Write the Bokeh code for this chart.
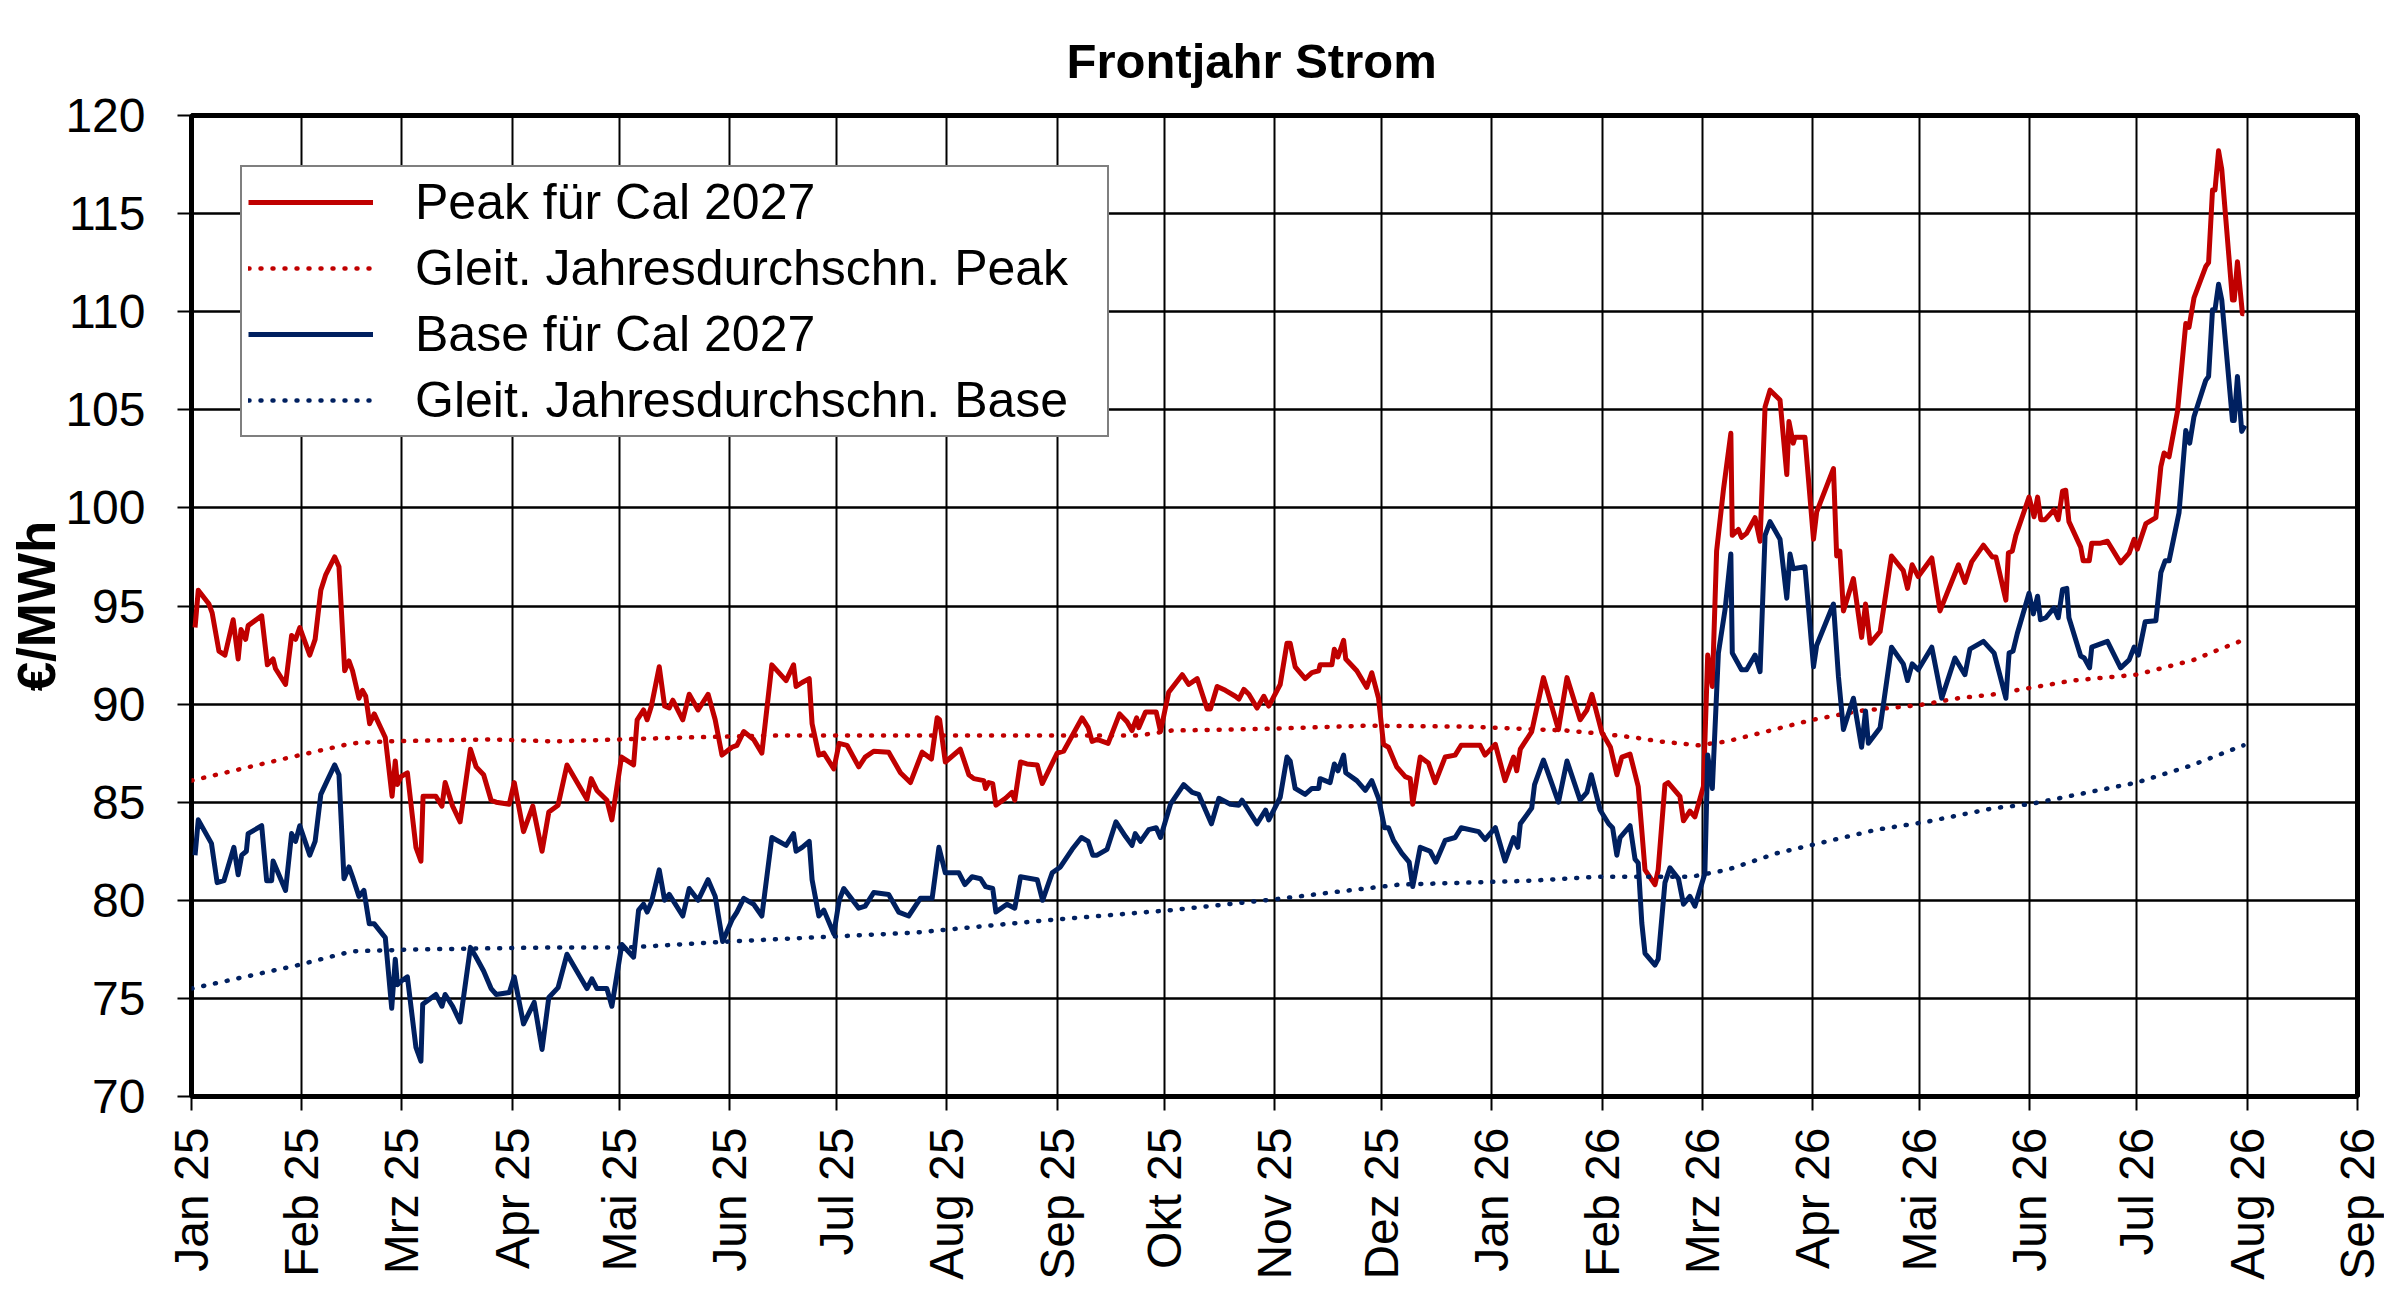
import numpy as np
import pandas as pd
from bokeh.plotting import figure
from bokeh.models import Range1d, FixedTicker, Legend, LegendItem
from bokeh.embed import file_html
from bokeh.resources import INLINE

# ---------------- Daten ----------------
titel = "Frontjahr Strom"
y_titel = "€/MWh"
ursprung = "2025-01-01"   # Tag 0 der x-Achse
monate = ["Jan 25", "Feb 25", "Mrz 25", "Apr 25", "Mai 25", "Jun 25", "Jul 25",
          "Aug 25", "Sep 25", "Okt 25", "Nov 25", "Dez 25", "Jan 26", "Feb 26",
          "Mrz 26", "Apr 26", "Mai 26", "Jun 26", "Jul 26", "Aug 26", "Sep 26"]
y_ticks = [70, 75, 80, 85, 90, 95, 100, 105, 110, 115, 120]

# Peak fuer Cal 2027 (Tage seit 01.01.2025, EUR/MWh)
peak_tage = [1, 1.9, 4.9, 5.8, 7.7, 9.4, 11.7, 13.1, 13.9, 15.2, 15.9, 19.7, 21.3, 22.9, 23.6, 26.4,
             28.1, 29.2, 30.4, 33.2, 34.7, 36.3, 37.7, 40.2, 41.4, 43.0, 44.2, 45.2, 47.0, 48.0, 48.9,
             50.0, 51.3, 54.4, 56.3, 57.2, 57.8, 58.8, 60.6, 63.0, 64.4, 65.0, 68.6, 70.3, 71.2, 73.3,
             75.4, 78.3, 79.9, 82.0, 84.1, 85.5, 89.2, 90.6, 93.2, 95.8, 98.4,
             100.3, 102.9, 105.4, 111.0, 112.2, 113.8, 116.6, 118.0, 120.7, 124.1, 125.1, 126.9, 127.9,
             129.1, 131.3, 132.8, 134.1, 135.1, 137.9, 139.7, 142.2, 145.0, 147.0, 148.9, 151.7, 153.1,
             155.0, 157.8, 160.1, 162.9, 166.9, 169.0, 169.7, 171.4, 173.4, 174.2, 176.1, 177.5, 180.3,
             181.8, 184.0, 187.3, 189.1, 191.5, 195.7, 199.0, 201.8,
             205.1, 207.7, 209.3, 210.0, 211.6, 215.8, 218.2, 219.6, 222.4, 222.9, 223.8, 224.9, 225.8,
             228.5, 230.3, 231.1, 232.7, 234.5, 237.4, 238.8, 243.0, 244.8, 250.0, 251.7, 252.8, 254.2,
             257.3, 260.5, 262.6, 264.0, 265.3, 265.9, 267.8, 270.8, 272.0, 274.3, 278.1, 279.9, 282.3,
             285.1, 286.0, 287.9, 290.2, 293.0, 294.0, 295.4, 296.8, 299.1, 301.0, 302.4,
             305.6, 307.5, 308.4, 309.8, 312.6, 314.5, 316.4, 316.8, 320.1, 320.8, 321.8, 323.4, 324.0,
             327.1, 329.9, 331.3, 333.2, 334.6, 336.0, 338.3, 340.7, 342.1, 342.8, 344.9, 347.2, 349.1,
             351.9, 354.7, 356.4, 361.7, 363.1, 366.0, 368.7, 371.1, 372.0, 373.0, 376.2, 379.5, 383.7,
             386.1, 389.8, 391.7, 393.1, 395.9, 398.3, 400.1, 401.5, 403.8,
             406.1, 408.0, 410.8, 411.7, 413.6, 414.5, 417.8, 418.8, 420.6, 422.0, 424.4, 425.6, 426.9,
             428.1, 430.0, 432.1, 432.5, 434.2, 435.1, 436.5, 438.9, 440.3, 441.7, 443.1, 445.9, 447.8,
             448.4, 449.6, 450.1, 452.9, 455.3, 456.2, 460.9, 461.8, 462.7, 463.7, 466.5, 468.8, 469.9,
             471.2, 474.0, 477.2, 480.5, 481.7, 483.0, 484.7, 488.5, 490.8, 496.0, 497.8, 499.7, 503.0,
             505.5, 506.5, 509.3, 510.0, 511.1, 512.1, 515.8, 517.2, 518.2, 519.1, 520.3, 522.8, 524.0,
             525.2, 526.1, 527.0, 530.3, 531.0, 532.7, 533.4, 535.9, 537.8, 541.5, 543.9, 545.3, 546.2,
             548.6, 551.4, 552.8, 553.7, 555.1, 557.5, 559.8, 560.7, 562.1, 565.4, 566.2, 567.3, 568.0,
             569.0, 569.9, 572.9, 573.4, 574.3, 575.7, 576.2]
peak_werte = [93.9, 95.8, 95.1, 94.65, 92.7, 92.5, 94.3, 92.3, 93.8, 93.3, 94.0, 94.5, 92.0, 92.3, 91.8, 91.0,
              93.5, 93.3, 93.9, 92.5, 93.3, 95.8, 96.6, 97.5, 97.0, 91.7, 92.2, 91.7, 90.3, 90.7, 90.4,
              89.0, 89.5, 88.3, 85.3, 87.1, 85.9, 86.3, 86.5, 82.7, 82.0, 85.3, 85.3, 84.8, 86.0, 84.8,
              84.0, 87.7, 86.8, 86.4, 85.1, 85.0, 84.9, 86.0, 83.5, 84.8, 82.5,
              84.5, 84.85, 86.9, 85.15, 86.2, 85.6, 85.1, 84.1, 87.3, 86.9, 89.2, 89.7, 89.2,
              89.9, 91.9, 89.9, 89.8, 90.2, 89.2, 90.5, 89.7, 90.5, 89.2, 87.4, 87.8, 87.9,
              88.6, 88.2, 87.5, 92.0, 91.2, 92.0, 90.9, 91.1, 91.3, 89.0, 87.4, 87.5, 86.7,
              88.0, 87.9, 86.8, 87.3, 87.6, 87.55, 86.5, 86.0,
              87.55, 87.2, 89.3, 89.2, 87.05, 87.7, 86.4, 86.2, 86.1, 85.7, 86.0, 85.95, 84.85,
              85.2, 85.5, 85.1, 87.05, 86.95, 86.9, 85.95, 87.5, 87.6, 89.3, 88.8, 88.1, 88.2,
              88.0, 89.5, 89.1, 88.65, 89.3, 88.8, 89.6, 89.6, 88.6, 90.6, 91.5, 91.0, 91.3,
              89.75, 89.75, 90.9, 90.7, 90.4, 90.25, 90.75, 90.5, 89.8, 90.4, 89.9,
              91.0, 93.1, 93.1, 91.9, 91.3, 91.6, 91.7, 92.0, 92.0, 92.8, 92.4, 93.25, 92.3,
              91.7, 90.85, 91.6, 90.3, 87.95, 87.8, 86.8, 86.3, 86.2, 84.9, 87.3, 87.0, 86.0,
              87.3, 87.4, 87.9, 87.9, 87.4, 87.95, 86.1, 87.3, 86.6, 87.7, 88.6, 91.35, 88.7,
              91.35, 89.2, 89.7, 90.5, 88.55, 87.8, 86.4, 87.3, 87.45,
              85.8, 81.55, 80.8, 81.55, 85.9, 86.0, 85.3, 84.05, 84.55, 84.25, 85.8, 92.5, 90.9,
              97.8, 100.9, 103.8, 98.6, 98.9, 98.5, 98.7, 99.5, 98.3, 105.15, 106.0, 105.5, 101.7,
              104.4, 103.3, 103.6, 103.6, 98.4, 99.8, 102.0, 97.55, 97.8, 94.75, 96.4, 93.4, 95.1,
              93.1, 93.7, 97.55, 96.8, 95.9, 97.1, 96.5, 97.45, 94.75, 97.1, 96.2, 97.25, 98.1,
              97.5, 97.5, 95.3, 97.7, 97.8, 98.6, 100.55, 99.55, 100.55, 99.4, 99.4, 99.9, 99.4,
              100.85, 100.9, 99.3, 98.0, 97.3, 97.3, 98.2, 98.2, 98.3, 97.2, 97.7, 98.4, 97.9,
              99.2, 99.5, 102.1, 102.8, 102.6, 104.95, 109.4, 109.2, 110.7, 112.3, 112.5, 116.2, 116.2,
              118.2, 117.25, 110.6, 110.6, 112.55, 109.9, 109.9]

# Base fuer Cal 2027
base_tage = [1, 1.9, 5.6, 7.2, 9.1, 11.9, 13.1, 14.1, 15.4, 15.9, 19.7, 21.1, 22.5, 22.9, 26.4, 28.1,
             29.2, 30.4, 33.2, 34.7, 36.3, 38.1, 40.2, 41.4, 42.8, 44.2, 45.2, 47.0, 48.4, 49.9, 51.3,
             54.4, 56.2, 57.2, 57.8, 59.0, 60.6, 63.0, 64.4, 64.9, 68.6, 70.3, 71.2, 73.3, 75.4, 78.3,
             79.9, 82.0, 84.1, 85.5, 89.2, 90.6, 93.2, 96.2, 98.4,
             100.3, 102.9, 105.4, 111.0, 112.4, 113.8, 116.6, 118.0, 120.8, 124.1, 125.5, 126.9, 127.9,
             129.1, 131.3, 132.8, 134.1, 137.9, 139.7, 142.2, 145.0, 147.0, 149.1, 151.7, 153.1, 155.0,
             157.8, 160.1, 161.5, 162.9, 166.9, 169.0, 169.7, 171.4, 173.4, 174.2, 176.1, 177.5, 180.3,
             181.8, 183.1, 187.3, 189.1, 191.5, 195.7, 198.5, 201.3,
             204.6, 207.9, 209.8, 211.6, 215.4, 217.1, 219.1, 221.5, 222.9, 224.9, 225.8, 228.9, 231.1,
             232.7, 237.4, 238.9, 241.6, 243.9, 247.2, 249.8, 251.7, 253.0, 254.2, 257.0, 259.5, 262.2,
             264.0, 264.9, 266.4, 268.7, 270.8, 272.0, 274.8, 278.5, 280.9, 282.7, 286.3, 288.4, 291.6,
             294.0, 294.9, 299.1, 301.5, 302.4,
             305.6, 307.5, 308.4, 309.8, 312.6, 314.5, 316.4, 316.8, 319.6, 320.8, 321.8, 323.4, 324.0,
             327.1, 329.5, 331.3, 333.2, 334.9, 336.0, 337.4, 339.7, 341.8, 342.8, 344.9, 347.7, 349.3,
             351.9, 354.7, 356.4, 361.3, 363.1, 366.0, 368.7, 371.1, 372.3, 373.0, 376.2, 377.0, 379.5,
             383.7, 386.1, 389.8, 391.7, 392.9, 395.4, 397.8, 398.9, 400.1, 401.0, 403.8,
             405.2, 406.1, 407.1, 408.0, 410.8, 411.7, 413.6, 415.0, 417.4, 418.8, 420.6, 422.0, 424.8,
             425.6, 426.9, 428.6, 430.5, 432.1, 432.5, 435.1, 436.5, 438.9, 440.3, 441.7, 443.1, 445.9,
             447.8, 448.7, 449.6, 452.9, 455.3, 456.2, 460.9, 462.3, 463.7, 466.5, 468.8, 469.9, 470.7,
             474.0, 477.2, 480.5, 481.7, 483.0, 484.7, 488.5, 491.3, 495.0, 497.8, 499.2, 503.0,
             506.0, 509.3, 510.2, 511.3, 512.5, 515.8, 517.0, 518.2, 519.0, 520.5, 522.8, 524.0, 525.2,
             526.4, 527.0, 530.3, 531.3, 532.8, 533.4, 537.8, 541.5, 543.9, 545.3, 546.5, 548.4, 551.4,
             552.8, 554.0, 555.1, 557.9, 559.8, 560.9, 562.1, 565.4, 566.2, 567.3, 568.0, 569.0, 569.9,
             572.9, 573.4, 574.3, 575.5, 576.4]
base_werte = [82.3, 84.1, 82.9, 80.9, 81.0, 82.7, 81.3, 82.3, 82.5, 83.4, 83.8, 81.0, 81.0, 82.0, 80.5, 83.4,
              83.0, 83.8, 82.3, 83.0, 85.4, 86.1, 86.9, 86.4, 81.1, 81.7, 81.2, 80.2, 80.5, 78.8, 78.8,
              78.1, 74.5, 77.0, 75.7, 75.9, 76.1, 72.5, 71.8, 74.7, 75.2, 74.6, 75.2, 74.6, 73.8, 77.6,
              77.1, 76.4, 75.5, 75.2, 75.3, 76.1, 73.7, 74.8, 72.4,
              75.05, 75.55, 77.25, 75.5, 76.0, 75.5, 75.5, 74.6, 77.75, 77.1, 79.5, 79.8, 79.4,
              79.9, 81.55, 80.0, 80.3, 79.2, 80.6, 80.0, 81.05, 80.2, 77.9, 79.0, 79.4, 80.1,
              79.8, 79.2, 81.2, 83.2, 82.8, 83.4, 82.5, 82.7, 83.0, 81.05, 79.2, 79.5, 78.3,
              80.0, 80.6, 79.6, 79.7, 80.4, 80.3, 79.4, 79.2,
              80.1, 80.1, 82.7, 81.4, 81.4, 80.8, 81.2, 81.1, 80.7, 80.6, 79.4, 79.8, 79.6,
              81.2, 81.05, 80.0, 81.4, 81.7, 82.6, 83.2, 83.0, 82.3, 82.3, 82.6, 84.0, 83.25,
              82.8, 83.4, 83.0, 83.6, 83.7, 83.2, 84.9, 85.9, 85.5, 85.4, 83.9, 85.2, 84.9,
              84.85, 85.1, 83.9, 84.6, 84.1,
              85.25, 87.3, 87.1, 85.7, 85.4, 85.7, 85.7, 86.2, 86.0, 86.95, 86.6, 87.4, 86.5,
              86.1, 85.6, 86.1, 85.2, 83.7, 83.7, 83.05, 82.4, 81.95, 80.7, 82.7, 82.5, 81.95,
              83.05, 83.2, 83.7, 83.5, 83.1, 83.7, 82.0, 83.2, 82.7, 83.9, 84.7, 85.9, 87.15,
              85.0, 87.1, 85.1, 85.5, 86.4, 84.6, 83.9, 83.7, 82.3, 83.2, 83.8,
              82.1, 81.9, 78.85, 77.3, 76.7, 77.0, 80.9, 81.65, 81.1, 79.8, 80.2, 79.7, 81.35,
              87.4, 85.7, 92.6, 94.85, 97.65, 92.6, 91.75, 91.75, 92.5, 91.65, 98.6, 99.3, 98.4,
              95.4, 97.65, 96.9, 97.0, 91.9, 93.0, 95.1, 91.4, 88.7, 90.3, 87.8, 89.65, 88.0,
              88.8, 92.9, 92.05, 91.2, 92.05, 91.75, 92.9, 90.3, 92.35, 91.5, 92.8, 93.2,
              92.6, 90.3, 92.6, 92.7, 93.6, 95.65, 94.6, 95.5, 94.3, 94.4, 94.9, 94.4, 95.85,
              95.9, 94.4, 92.45, 92.35, 91.85, 92.9, 93.2, 91.85, 92.25, 92.9, 92.5, 94.2, 94.25,
              96.7, 97.3, 97.3, 99.75, 103.95, 103.3, 104.65, 106.5, 106.7, 110.1, 110.1, 111.4, 110.6,
              104.45, 104.45, 106.7, 103.9, 104.2]

# Gleitende Jahresdurchschnitte
peak_avg_tage = [0, 28, 45, 55, 83, 102, 139, 165, 203, 266, 275, 304, 330, 358, 386, 395, 405,
                 412, 423, 431, 442, 455, 468, 485, 496, 506, 512, 528, 546, 562, 568, 575]
peak_avg_werte = [86.1, 87.3, 88.0, 88.1, 88.2, 88.1, 88.3, 88.4, 88.4, 88.4, 88.65, 88.75, 88.9, 88.85,
                  88.65, 88.5, 88.3, 88.1, 87.9, 88.1, 88.6, 89.2, 89.65, 89.95, 90.3, 90.5, 90.7,
                  91.2, 91.5, 92.25, 92.7, 93.2]
base_avg_tage = [0, 30, 45, 64, 102, 123, 151, 174, 203, 238, 275, 304, 320, 339, 358, 376, 395,
                 405, 421, 431, 445, 459, 473, 487, 506, 516, 546, 561, 576]
base_avg_werte = [75.5, 76.7, 77.4, 77.5, 77.6, 77.6, 77.9, 78.1, 78.35, 78.95, 79.5, 80.05, 80.4, 80.8,
                  80.9, 81.0, 81.2, 81.2, 81.2, 81.55, 82.4, 83.0, 83.6, 84.0, 84.7, 84.9, 86.0,
                  86.85, 87.9]

# ---------------- Darstellung ----------------
rot = "#C00000"
blau = "#002060"
schrift = "Liberation Sans"
RAND_L, RAND_O, FRAME_W, FRAME_H = 191, 115, 2166, 981
BREITE, HOEHE = 2384, 1285

monatsanfaenge = pd.date_range(ursprung, periods=len(monate), freq="MS")
x_ticks = [float(d) for d in (monatsanfaenge - pd.Timestamp(ursprung)).days]

p = figure(width=BREITE, height=HOEHE, output_backend="svg", toolbar_location=None,
           x_range=Range1d(x_ticks[0], x_ticks[-1]), y_range=Range1d(y_ticks[0], y_ticks[-1]),
           min_border_left=RAND_L, min_border_right=BREITE - RAND_L - FRAME_W,
           min_border_top=RAND_O, min_border_bottom=HOEHE - RAND_O - FRAME_H,
           title=titel)
p.background_fill_color = "white"
p.border_fill_color = "white"
p.outline_line_color = "black"
p.outline_line_width = 5

p.title.text_font = schrift
p.title.text_font_size = "49px"
p.title.text_font_style = "bold"
p.title.text_color = "black"
p.title.align = "left"
p.title.offset = 875
p.title.standoff = 56

for ax in (p.xaxis[0], p.yaxis[0]):
    ax.axis_line_color = None
    ax.major_tick_line_color = "black"
    ax.major_tick_line_width = 2
    ax.major_tick_out = 14
    ax.major_tick_in = 0
    ax.minor_tick_out = 0
    ax.minor_tick_in = 0
    ax.major_label_text_font = schrift
    ax.major_label_text_font_size = "48px"
    ax.major_label_text_color = "black"

p.xaxis.ticker = FixedTicker(ticks=x_ticks)
p.xaxis.major_label_overrides = {t: m for t, m in zip(x_ticks, monate)}
p.xaxis.major_label_orientation = np.pi / 2
p.xaxis.major_label_standoff = 17

p.yaxis.ticker = FixedTicker(ticks=y_ticks)
p.yaxis.major_label_standoff = 32
p.yaxis.axis_label = y_titel
p.yaxis.axis_label_text_font = schrift
p.yaxis.axis_label_text_font_size = "53px"
p.yaxis.axis_label_text_font_style = "bold"
p.yaxis.axis_label_text_color = "black"
p.yaxis.axis_label_standoff = -4

p.xgrid.ticker = FixedTicker(ticks=x_ticks)
p.ygrid.ticker = FixedTicker(ticks=y_ticks)
p.xgrid.grid_line_color = "black"
p.xgrid.grid_line_width = 2
p.ygrid.grid_line_color = "black"
p.ygrid.grid_line_width = 2.5

r_peak = p.line(peak_tage, peak_werte, line_color=rot, line_width=5, line_join="round")
r_peak_avg = p.line(peak_avg_tage, peak_avg_werte, line_color=rot, line_width=4.5,
                    line_dash="1 11", line_cap="round")
r_base = p.line(base_tage, base_werte, line_color=blau, line_width=5, line_join="round")
r_base_avg = p.line(base_avg_tage, base_avg_werte, line_color=blau, line_width=4.5,
                    line_dash="1 11", line_cap="round")

legend = Legend(items=[
    LegendItem(label="Peak für Cal 2027", renderers=[r_peak]),
    LegendItem(label="Gleit. Jahresdurchschn. Peak", renderers=[r_peak_avg]),
    LegendItem(label="Base für Cal 2027", renderers=[r_base]),
    LegendItem(label="Gleit. Jahresdurchschn. Base", renderers=[r_base_avg]),
], location=(49, 659))
legend.margin = 0
legend.padding = 6
legend.spacing = 8
legend.glyph_width = 125
legend.glyph_height = 48
legend.label_standoff = 42
legend.label_width = 686
legend.label_text_font = schrift
legend.label_text_font_size = "50px"
legend.label_text_color = "black"
legend.border_line_color = "black"
legend.border_line_width = 2
legend.background_fill_color = "white"
legend.background_fill_alpha = 1
p.add_layout(legend)

open("out.html", "w").write(file_html(p, INLINE))
